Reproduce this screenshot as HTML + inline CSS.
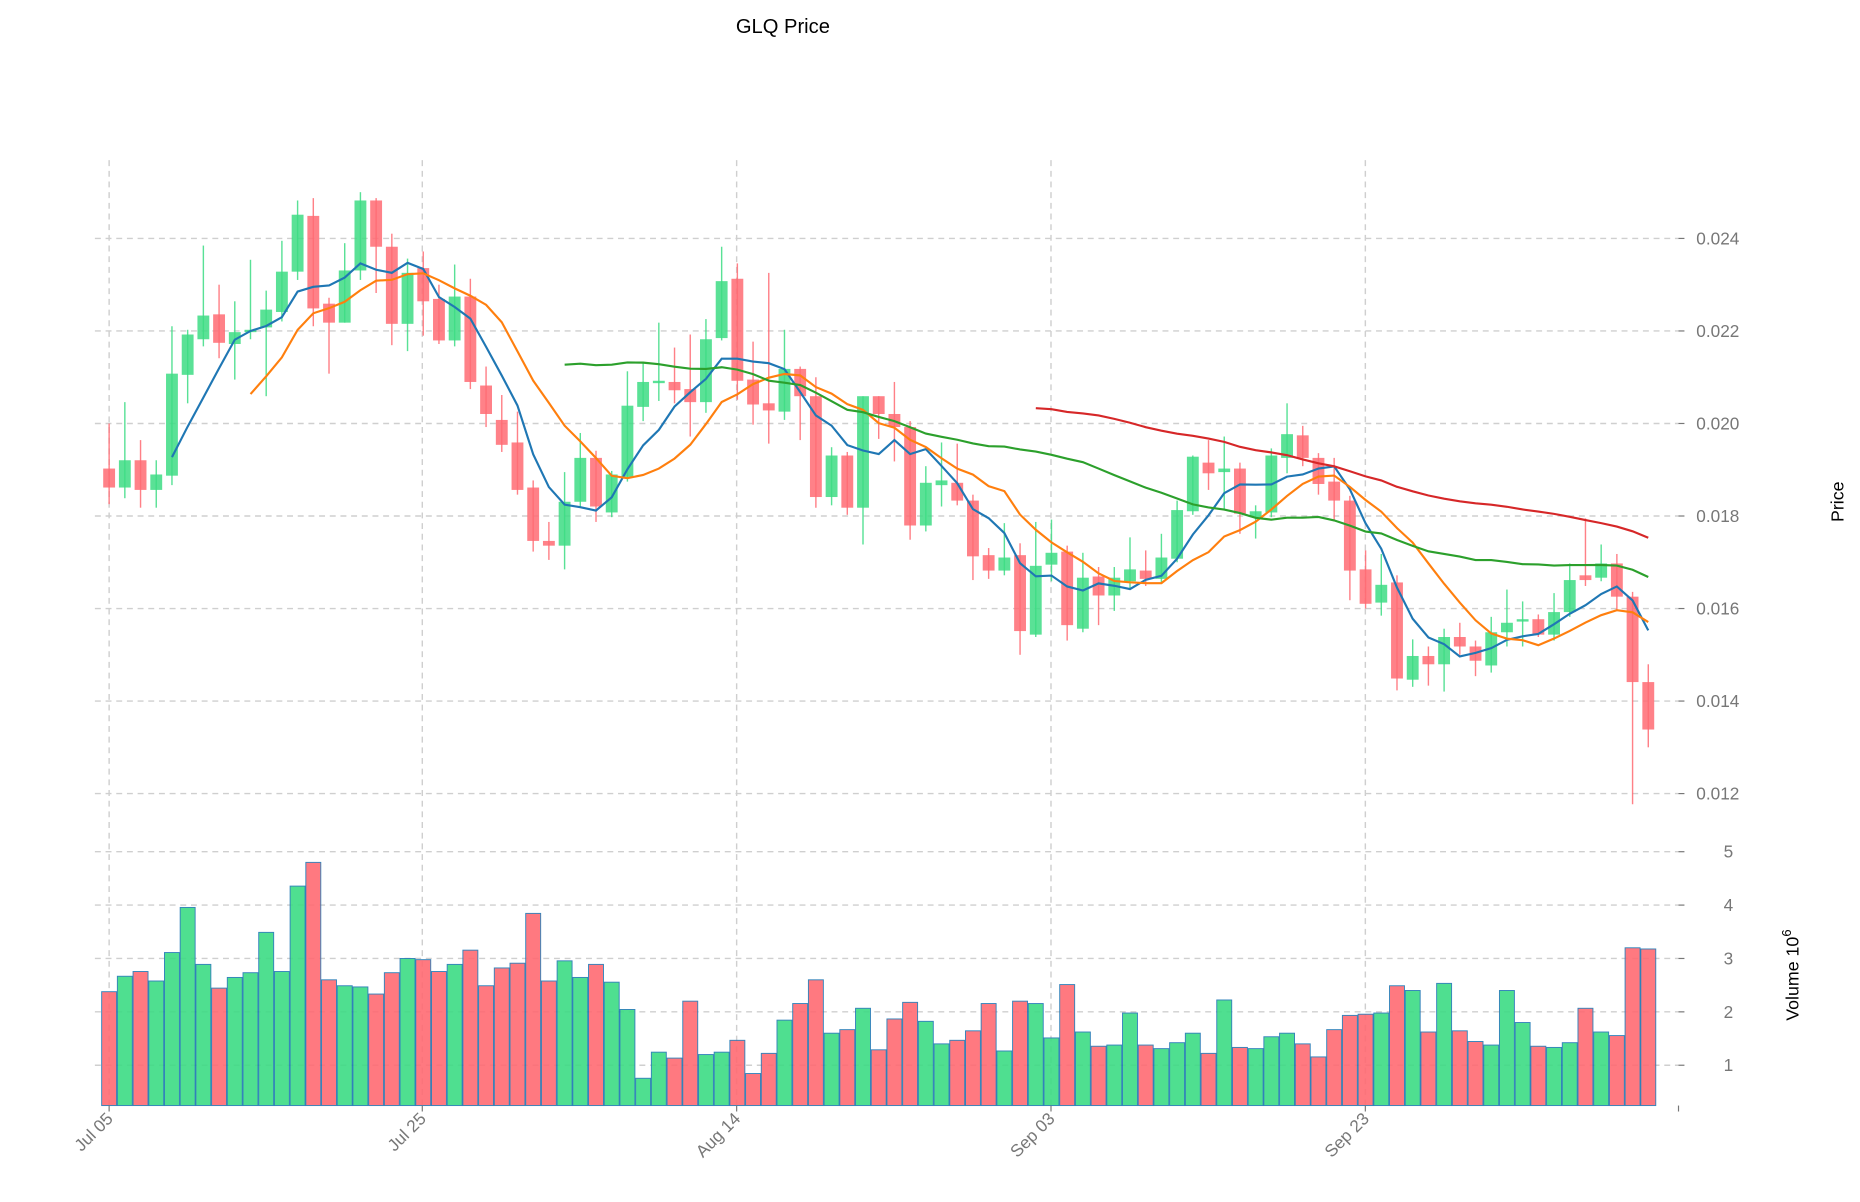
<!DOCTYPE html>
<html><head><meta charset="utf-8"><style>
html,body{margin:0;padding:0;background:#fff;}
svg{display:block;font-family:"Liberation Sans","DejaVu Sans",sans-serif;}
</style></head><body>
<svg id="c" width="1860" height="1202" viewBox="0 0 1568 1013.3" xmlns="http://www.w3.org/2000/svg">
<rect width="1568" height="1014" fill="#fff"/>
<g id="grid" stroke="#cfcfcf" stroke-width="1.2" stroke-dasharray="5,4" fill="none">
<line x1="80" x2="1415" y1="201" y2="201"/><line x1="80" x2="1415" y1="279" y2="279"/>
<line x1="80" x2="1415" y1="357" y2="357"/><line x1="80" x2="1415" y1="435" y2="435"/>
<line x1="80" x2="1415" y1="513" y2="513"/><line x1="80" x2="1415" y1="591" y2="591"/>
<line x1="80" x2="1415" y1="669" y2="669"/>
<line x1="80" x2="1415" y1="718" y2="718"/><line x1="80" x2="1415" y1="763" y2="763"/>
<line x1="80" x2="1415" y1="808" y2="808"/><line x1="80" x2="1415" y1="853" y2="853"/>
<line x1="80" x2="1415" y1="898" y2="898"/>
<line x1="92" x2="92" y1="135" y2="932"/><line x1="356" x2="356" y1="135" y2="932"/>
<line x1="621" x2="621" y1="135" y2="932"/><line x1="886" x2="886" y1="135" y2="932"/>
<line x1="1151" x2="1151" y1="135" y2="932"/>
</g>
<g id="vol"></g>
<g id="cand"></g>
<g id="ma"></g>
<g fill="#777" font-size="14.5">
<text x="1430" y="206">0.024</text><text x="1430" y="284">0.022</text><text x="1430" y="362">0.020</text>
<text x="1430" y="440">0.018</text><text x="1430" y="518">0.016</text><text x="1430" y="596">0.014</text>
<text x="1430" y="674">0.012</text>
<text x="1453" y="723">5</text><text x="1453" y="768">4</text><text x="1453" y="813">3</text>
<text x="1453" y="858">2</text><text x="1453" y="903">1</text>
</g>
<g stroke="#777" stroke-width="1">
<line x1="1415" x2="1420" y1="201" y2="201"/><line x1="1415" x2="1420" y1="279" y2="279"/><line x1="1415" x2="1420" y1="357" y2="357"/><line x1="1415" x2="1420" y1="435" y2="435"/><line x1="1415" x2="1420" y1="513" y2="513"/><line x1="1415" x2="1420" y1="591" y2="591"/><line x1="1415" x2="1420" y1="669" y2="669"/>
<line x1="1415" x2="1420" y1="718" y2="718"/><line x1="1415" x2="1420" y1="763" y2="763"/><line x1="1415" x2="1420" y1="808" y2="808"/><line x1="1415" x2="1420" y1="853" y2="853"/><line x1="1415" x2="1420" y1="898" y2="898"/>
<line x1="1415" x2="1415" y1="932" y2="937"/>
<line x1="92" x2="92" y1="932" y2="937"/><line x1="356" x2="356" y1="932" y2="937"/><line x1="621" x2="621" y1="932" y2="937"/><line x1="886" x2="886" y1="932" y2="937"/><line x1="1151" x2="1151" y1="932" y2="937"/>
</g>
<g fill="#777" font-size="14.5" text-anchor="end">
<text transform="translate(96,944) rotate(-45)">Jul 05</text>
<text transform="translate(360,944) rotate(-45)">Jul 25</text>
<text transform="translate(625,944) rotate(-45)">Aug 14</text>
<text transform="translate(890,944) rotate(-45)">Sep 03</text>
<text transform="translate(1155,944) rotate(-45)">Sep 23</text>
</g>
<text x="660" y="28" font-size="17" text-anchor="middle" fill="#000">GLQ Price</text>
<text transform="translate(1554,423) rotate(-90)" font-size="15" text-anchor="middle" fill="#000">Price</text>
<text transform="translate(1516,822) rotate(-90)" font-size="15" text-anchor="middle" fill="#000">Volume  10<tspan dy="-6" font-size="11">6</tspan></text>
</svg>
<script>
// [bodyTop, bodyBot, wickTop, wickBot, green?]
var C=[[395,411,357,425,0],[388,411,339,420,1],[388,413,371,428,0],[400,413,388,428,1],[315,401,275,409,1],[282,316,278,340,1],[266,286,207,292,1],[265,289,240,302,0],[280,290,254,320,1],[278,280,219,286,1],[261,276,245,334,1],[229,263,203,271,1],[181,229,169,236,1],[182,260,167,275,0],[256,272,251,315,0],[228,272,205,272,1],[169,228,162,236,1],[169,208,167,247,0],[208,273,197,291,0],[230,273,218,296,1],[226,254,212,283,0],[252,287,240,290,0],[250,287,223,292,1],[250,322,235,328,0],[325,349,309,360,0],[354,375,333,381,0],[373,413,347,417,0],[411,456,405,465,0],[456,460,440,472,0],[423,460,398,480,1],[386,423,365,428,1],[386,427,380,440,0],[400,432,397,436,1],[342,402,313,406,1],[322,343,306,355,1],[321,323,272,338,1],[322,329,293,340,0],[328,339,282,368,0],[286,339,269,348,1],[237,285,208,287,1],[235,321,222,337,0],[320,341,288,358,0],[340,346,230,374,0],[311,347,278,354,1],[311,334,309,371,0],[334,419,318,428,0],[384,419,377,426,1],[384,428,381,434,0],[334,428,334,459,1],[334,349,334,370,0],[349,360,322,389,0],[360,443,355,455,0],[407,443,393,448,1],[405,409,373,427,1],[407,422,374,426,0],[422,469,417,489,0],[468,481,462,488,0],[470,481,441,485,1],[468,532,458,552,0],[477,535,440,537,1],[466,476,438,490,1],[465,527,460,540,0],[487,530,466,533,1],[486,502,478,527,0],[487,502,478,515,1],[480,490,453,497,1],[481,488,464,494,0],[470,488,450,492,1],[430,471,422,474,1],[385,431,384,434,1],[390,399,371,413,0],[395,398,368,429,1],[395,433,390,450,0],[431,436,426,454,1],[384,432,378,436,1],[366,386,340,399,1],[367,386,359,393,0],[386,408,382,417,0],[406,422,386,438,0],[422,481,418,506,0],[480,509,464,513,0],[493,508,467,519,1],[491,572,485,582,0],[553,573,539,579,1],[553,560,545,578,0],[537,560,530,583,1],[537,545,525,552,0],[545,557,540,570,0],[533,561,520,567,1],[525,533,497,545,1],[522,524,507,545,1],[522,535,518,537,0],[516,535,500,540,1],[489,516,475,520,1],[485,489,437,494,0],[475,487,459,490,1],[475,503,467,515,0],[503,575,499,678,0],[575,615,560,630,0]];
var V=[836,823,819,827,803,765,813,833,824,820,786,819,747,727,826,831,832,838,820,808,809,819,813,801,831,816,812,770,827,810,824,813,828,851,909,887,892,844,889,887,877,905,888,860,846,826,871,868,850,885,859,845,861,880,877,869,846,886,844,846,875,830,870,882,881,854,881,884,879,871,888,843,883,884,874,871,880,891,868,856,855,854,831,835,870,829,869,878,881,835,862,882,883,879,850,870,873,799,800];
var NS="http://www.w3.org/2000/svg";
function el(t,a,p){var e=document.createElementNS(NS,t);for(var k in a)e.setAttribute(k,a[k]);p.appendChild(e);return e;}
var gc=document.getElementById('cand'),gv=document.getElementById('vol'),gm=document.getElementById('ma');
var G="#3ddc84",R="#ff6b73",closes=[];
for(var i=0;i<C.length;i++){var c=C[i],x=92+i*13.24,col=c[4]?G:R;
 el('line',{x1:x,x2:x,y1:c[2],y2:c[3],stroke:col,'stroke-width':1.2,opacity:0.85},gc);
 el('rect',{x:x-5,y:c[0],width:10,height:Math.max(1.5,c[1]-c[0]),fill:col,opacity:0.85},gc);
 closes.push(c[4]?c[0]:c[1]);
 var vc=(C[i][4])?G:R;
 el('rect',{x:x-6.3,y:V[i],width:12.6,height:932-V[i],fill:vc,opacity:0.9,stroke:'#1f77b4','stroke-width':0.8},gv);
}
function ma(n,color){var pts=[];for(var i=n-1;i<closes.length;i++){var s=0;for(var j=i-n+1;j<=i;j++)s+=closes[j];pts.push((92+i*13.24).toFixed(1)+','+(s/n).toFixed(1));}
 el('polyline',{points:pts.join(' '),fill:'none',stroke:color,'stroke-width':1.8},gm);}
ma(5,'#1f77b4');ma(10,'#ff7f0e');ma(30,'#2ca02c');ma(60,'#d62728');
</script>
</body></html>
